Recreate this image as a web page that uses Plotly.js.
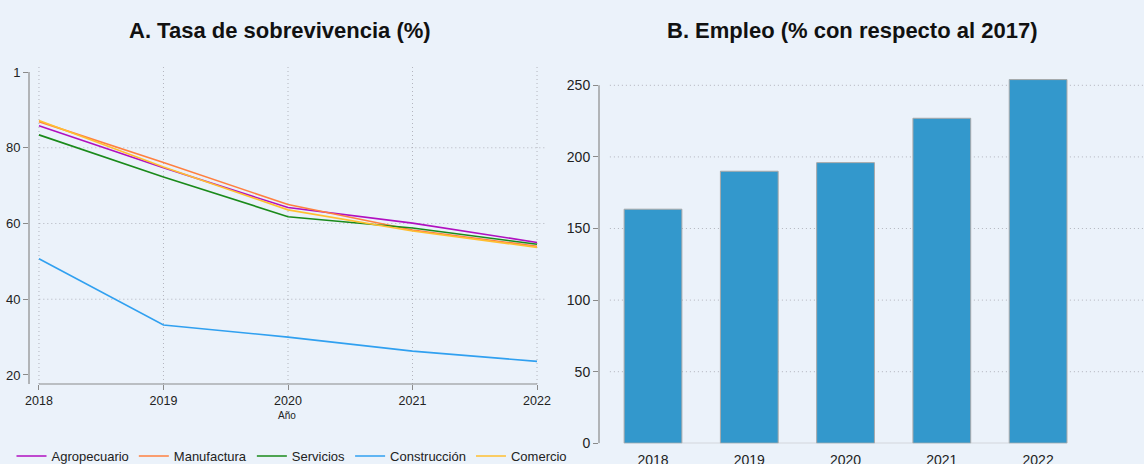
<!DOCTYPE html>
<html>
<head>
<meta charset="utf-8">
<script src="https://cdn.plot.ly/plotly-3.0.1.min.js"></script>
<style>html,body{margin:0;padding:0;background:#ebf2fa;}#chart{width:1144px;height:464px;}</style>
</head>
<body>
<div id="chart"></div>
<script>
// ---- data ----
const years = [2018, 2019, 2020, 2021, 2022];
const agropecuario = [85.8, 74.7, 64.2, 60.1, 55.0];
const manufactura = [86.9, 76.1, 65.0, 58.3, 54.0];
const servicios = [83.4, 72.3, 61.8, 58.8, 54.5];
const construccion = [50.7, 33.2, 30.0, 26.3, 23.6];
const comercio = [87.2, 74.9, 63.6, 58.0, 53.7];
const empleoYears = ['2018', '2019', '2020', '2021', '2022'];
const empleo = [163.5, 190, 196, 227, 254];
const leftTickVals = [20, 40, 60, 80, 100];
const leftTickText = ['20', '40', '60', '80', '1'];
const rightTickVals = [0, 50, 100, 150, 200, 250];

const W = 1144, H = 464;
const font = 'Liberation Sans, Arial, sans-serif';
const gridColor = 'rgba(160,160,170,0.75)';
const axisColor = '#8a8a8a';
const dotted = '1px,3px';

function line(name, y, color) {
  return {type: 'scatter', mode: 'lines', name: name, x: years, y: y,
    line: {color: color, width: 1.6}, xaxis: 'x', yaxis: 'y'};
}
const traces = [
  line('Agropecuario', agropecuario, '#b010c0'),
  line('Manufactura', manufactura, '#ff8040'),
  line('Servicios', servicios, '#1a8a1a'),
  line('Construcción', construccion, '#30a0f0'),
  line('Comercio', comercio, '#ffbf30'),
  {type: 'bar', x: empleoYears, y: empleo, xaxis: 'x2', yaxis: 'y2', showlegend: false,
    marker: {color: '#3398cc', line: {color: '#a8a8a8', width: 1}}}
];

const shapes = [];
// left grid
[40, 60, 80].forEach(v => shapes.push({type: 'line', xref: 'x domain', yref: 'y', x0: 0.02, x1: 1, y0: v, y1: v,
  line: {color: gridColor, width: 1, dash: dotted}, layer: 'below'}));
years.forEach(v => shapes.push({type: 'line', xref: 'x', yref: 'y', x0: v, x1: v, y0: 17.62, y1: 102,
  line: {color: gridColor, width: 1, dash: dotted}, layer: 'below'}));
// left axis lines
shapes.push({type: 'line', xref: 'x domain', yref: 'y', x0: 0, x1: 0, y0: 17.62, y1: 100, line: {color: axisColor, width: 1.2}});
shapes.push({type: 'line', xref: 'x', yref: 'y domain', x0: 2018, x1: 2022, y0: 0, y1: 0, line: {color: axisColor, width: 1.2}});
// right grid
[50, 100, 150, 200, 250].forEach(v => shapes.push({type: 'line', xref: 'x2 domain', yref: 'y2', x0: 0.02, x1: 1, y0: v, y1: v,
  line: {color: gridColor, width: 1, dash: dotted}, layer: 'below'}));
// right axis line
shapes.push({type: 'line', xref: 'x2 domain', yref: 'y2', x0: 0, x1: 0, y0: 0, y1: 250, line: {color: axisColor, width: 1.2}});
shapes.push({type: 'line', xref: 'x2', yref: 'y2', x0: -0.3, x1: 4.3, y0: 0, y1: 0, line: {color: '#b0b0b0', width: 1}});

const layout = {
  width: W, height: H,
  margin: {l: 0, r: 0, t: 0, b: 0, autoexpand: false},
  paper_bgcolor: '#ebf2fa', plot_bgcolor: '#ebf2fa',
  font: {family: font, color: '#222'},
  showlegend: true,
  legend: {orientation: 'h', x: 292 / W, xanchor: 'center', y: (H - 456) / H, yanchor: 'middle',
    font: {size: 13, family: font, color: '#222'}, itemwidth: 30, tracegroupgap: 0, bgcolor: 'rgba(0,0,0,0)'},
  xaxis: {domain: [29 / W, 545 / W], range: [2017.92, 2022.064], anchor: 'y', showgrid: false, zeroline: false, showline: false,
    automargin: false,
    tickvals: years, ticktext: years.map(String), ticks: 'outside', ticklen: 5, tickcolor: axisColor,
    tickfont: {size: 12.5, color: '#222'},
    title: {text: 'Año', font: {size: 10, color: '#222'}, standoff: 4}},
  yaxis: {domain: [(H - 384) / H, (H - 65) / H], range: [17.62, 101.85], anchor: 'x', showgrid: false, zeroline: false, showline: false,
    automargin: false,
    tickvals: leftTickVals, ticktext: leftTickText, ticks: 'outside', ticklen: 5, tickcolor: axisColor,
    tickfont: {size: 13, color: '#222'}},
  xaxis2: {domain: [599 / W, 1], range: [-0.561, 5.10], type: 'category', anchor: 'y2', showgrid: false, zeroline: false, showline: false,
    automargin: false,
    ticks: 'outside', ticklen: 4, tickcolor: 'rgba(0,0,0,0)', tickfont: {size: 14, color: '#222'}},
  yaxis2: {domain: [(H - 443.3) / H, (H - 70) / H], range: [0, 260.7], anchor: 'x2', showgrid: false, zeroline: false, showline: false,
    automargin: false,
    tickvals: rightTickVals, ticks: 'outside', ticklen: 5, tickcolor: axisColor, tickfont: {size: 14, color: '#222'}},
  bargap: 0.4,
  shapes: shapes,
  annotations: [
    {text: '<b>A. Tasa de sobrevivencia (%)</b>', xref: 'paper', yref: 'paper', x: 280 / W, y: (H - 30) / H,
      xanchor: 'center', yanchor: 'middle', showarrow: false, font: {size: 22, color: '#111', family: font}},
    {text: '<b>B. Empleo (% con respecto al 2017)</b>', xref: 'paper', yref: 'paper', x: 852 / W, y: (H - 30) / H,
      xanchor: 'center', yanchor: 'middle', showarrow: false, font: {size: 22, color: '#111', family: font}}
  ]
};
Plotly.newPlot('chart', traces, layout, {displayModeBar: false, staticPlot: true});
</script>
</body>
</html>
